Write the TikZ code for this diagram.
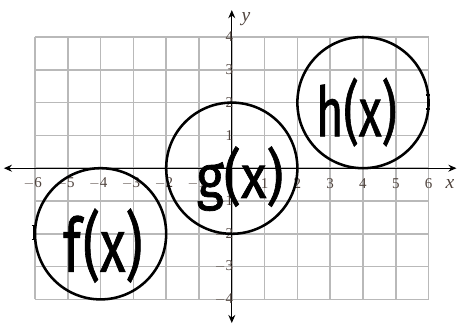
\documentclass[tikz,border=0pt]{standalone}
\usepackage{fontspec}
\setmainfont{Liberation Serif}
\newfontfamily\handfont[FakeBold=1.2]{Fira Sans}
\usetikzlibrary{arrows.meta}
\definecolor{labelcol}{RGB}{80,68,62}
\definecolor{gridcol}{RGB}{185,185,185}
\tikzset{
  gridline/.style={draw=gridcol, line width=1.3pt},
  axisline/.style={draw=black, line width=1.2pt, {Stealth[length=7pt,width=6pt]}-{Stealth[length=7pt,width=6pt]}},
  fcircle/.style={draw=black, line width=2.2pt},
  numlabel/.style={text=labelcol, font=\fontsize{13}{13}\selectfont, inner sep=0pt},
  axislabel/.style={text=labelcol, font=\fontsize{17}{17}\selectfont\itshape, inner sep=0pt},
  handlabel/.style={font=\handfont\fontsize{48}{48}\selectfont, inner sep=0pt, transform shape},
  pointmark/.style={draw=black, line width=1.4pt},
}
\begin{document}
\begin{tikzpicture}
\useasboundingbox (-7.067,-4.811) rectangle (6.927,5.128);
% grid
\foreach \i in {-6,...,6} \draw[gridline] (\i,-4) -- (\i,4);
\foreach \j in {-4,...,4} \draw[gridline] (-6,\j) -- (6,\j);
% axes
\coordinate (xl) at (-6.95,0);
\coordinate (xr) at (6.85,0);
\coordinate (yb) at (0,-4.72);
\coordinate (yt) at (0,4.82);
\draw[axisline] (xl) -- (xr);
\draw[axisline] (yb) -- (yt);
\node[axislabel] (xlab) at (6.65,-0.48) {x};
\node[axislabel] (ylab) at (0.43,4.55) {y};
% x numbers
\foreach \i in {-6,-5,-4,-3,-2,-1} \node[numlabel] (xn\i) at (\i-0.07,-0.46) {$-$\the\numexpr-\i\relax};
\foreach \i in {1,...,6} \node[numlabel] (xn\i) at (\i,-0.46) {\i};
% y numbers
\foreach \j in {1,...,4} \node[numlabel, anchor=east] (yn\j) at (0.05,\j) {\j};
\foreach \j in {-1,-2,-3,-4} \node[numlabel, anchor=east] (yn\j) at (0.05,\j) {$-$\the\numexpr-\j\relax};
% circles
\draw[fcircle] (0,0) circle (2);
\draw[fcircle] (4,2) circle (2);
\draw[fcircle] (-4,-2) circle (2);
% point marks
\draw[pointmark] (-6.03,-2.17) -- (-6.03,-1.75) (-6.1,-2.17) -- (-5.96,-2.17) (-6.1,-1.75) -- (-5.96,-1.75);
\draw[pointmark] (5.98,1.8) -- (5.98,2.24) (5.91,1.8) -- (6.05,1.8) (5.91,2.24) -- (6.05,2.24);
% handwritten labels
\node[handlabel, xscale=0.95, yscale=1.1] (glab) at (0.25,-0.32) {g(x)};
\node[handlabel, xscale=0.85, yscale=1.25] (hlab) at (3.8,1.71) {h(x)};
\node[handlabel, xscale=0.95, yscale=1.35] (flab) at (-3.93,-2.36) {f\kern2pt(x)};
\end{tikzpicture}
\end{document}
